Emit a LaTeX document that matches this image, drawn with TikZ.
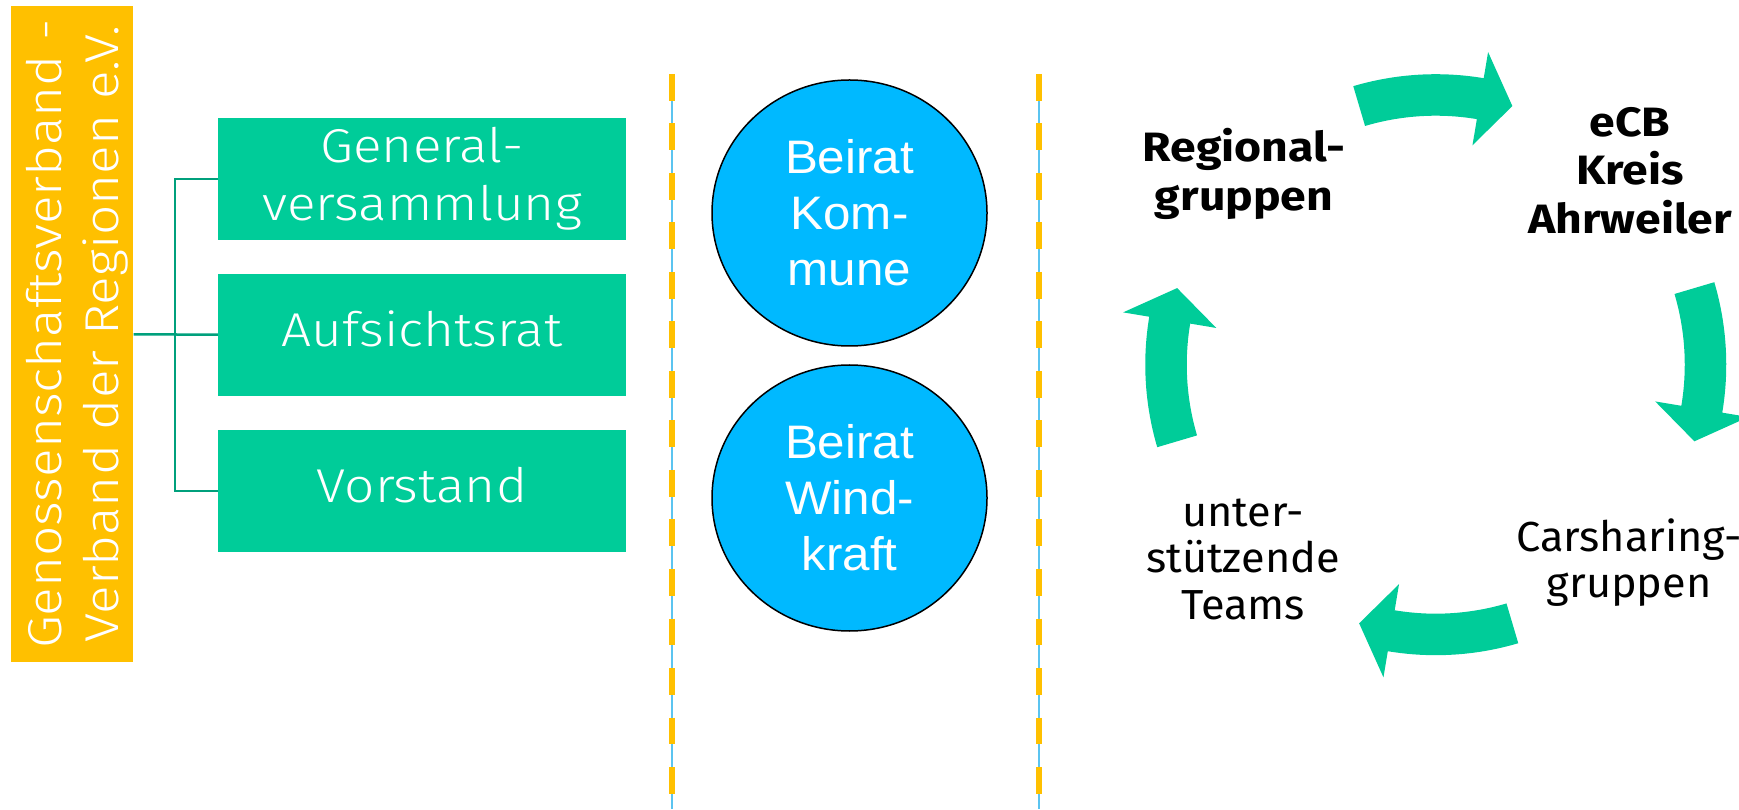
\documentclass[tikz,border=0pt]{standalone}
\usepackage{fontspec}
\usepackage{tikz}
\usetikzlibrary{positioning,shapes.geometric}
\newfontfamily\eurolight{Fira Sans Light}[FakeStretch=1.12]
\newfontfamily\euroreg{Fira Sans}[FakeStretch=1.03]
\newfontfamily\eurobold{Fira Sans Bold}[FakeStretch=1.13]
\newfontfamily\arialfont{Liberation Sans}[FakeStretch=1.05]
\definecolor{egreen}{HTML}{00CC99}
\definecolor{egold}{HTML}{FFC000}
\definecolor{esky}{HTML}{00B9FF}
\definecolor{eteal}{HTML}{00A07C}
\definecolor{elight}{HTML}{5BC4F0}

\begin{document}
\begin{tikzpicture}[x=1pt,y=1pt,on grid,node distance=156pt,
    verband/.style={fill=egold,minimum width=122.3pt,minimum height=656pt,inner sep=0pt},
    verbandtext/.style={text=white,rotate=90,inner sep=0pt,align=center,font=\eurolight\fontsize{47.5}{57.3}\selectfont},
    gremium/.style={fill=egreen,text=white,minimum width=408pt,minimum height=122pt,inner sep=0pt,align=center,font=\eurolight\fontsize{47.5}{57.7}\selectfont},
    einzeilig/.style={text depth=12pt},
    beirat/.style={ellipse,draw=black,line width=1.5pt,fill=esky,text=white,minimum width=275pt,minimum height=266pt,inner sep=0pt,align=center,font=\arialfont\fontsize{47}{56}\selectfont},
    trenner/.style={egold,line width=6.7pt,dash pattern=on 26.8pt off 22.7pt},
    leitlinie/.style={elight,line width=1.2pt},
    ast/.style={eteal,line width=2.5pt},
    kreislauf/.style={fill=egreen},
    fett/.style={align=center,font=\eurobold\fontsize{41}{48.5}\selectfont},
    normal/.style={align=center,font=\euroreg\fontsize{42}{46.5}\selectfont}]
    \useasboundingbox (0,0) rectangle (1739,809);
    \node[verband] (ggv) at (72.2,475) {};
    \node[verbandtext] (ggvtext) at ([xshift=4.7]ggv.center) {Genossenschaftsverband -\\Verband der Regionen e.V.};
    \node[gremium,einzeilig] (auf) at (422,474) {Aufsichtsrat};
    \node[gremium] (gv) [above=of auf] {General-\\versammlung};
    \node[gremium,einzeilig] (vst) [below=of auf] {Vorstand};
    \coordinate (knoten) at (175,474.5);
    \draw[ast] (knoten) -- (ggv);
    \draw[ast] (knoten) -- (auf);
    \draw[ast] (knoten) |- (gv);
    \draw[ast] (knoten) |- (vst);

    \coordinate (oben1) at (672,735);
    \coordinate (unten1) at (672,0);
    \coordinate (oben2) at (1039,735);
    \coordinate (unten2) at (1039,0);
    \draw[leitlinie] (oben1) -- (unten1);
    \draw[trenner] (oben1) -- (unten1);
    \draw[leitlinie] (oben2) -- (unten2);
    \draw[trenner] (oben2) -- (unten2);

    \node[beirat] (kommune) at (849.5,596) {Beirat\\Kom-\\mune};
    \node[beirat] (wind) [below=285pt of kommune] {Beirat\\Wind-\\kraft};

    \coordinate (mitte) at (1435.75,444.3);
    \node[fett] (regio) at ([shift={(-191.75,190.7)}]mitte) {Regional-\\gruppen};
    \node[fett] (ecb) at ([shift={(194.25,194.2)}]mitte) {eCB\\Kreis\\Ahrweiler};
    \node[normal] (car) at ([shift={(193.5,-198)}]mitte) {Carsharing-\\gruppen};
    \node[normal] (team) at ([shift={(-192.75,-194.5)}]mitte) {unter-\\stützende\\Teams};
    \foreach \w in {90,0,-90,180}
        \fill[kreislauf,shift={(mitte)}] ({\w+16.5}:290.5) arc[start angle=\w+16.5,end angle=\w-9.5,radius=290.5]
            -- ({\w-9.5}:317) -- ({\w-16.5}:269.75) -- ({\w-9.5}:222.5) -- ({\w-9.5}:249)
            arc[start angle=\w-9.5,end angle=\w+16.5,radius=249] -- cycle;
\end{tikzpicture}
\end{document}
